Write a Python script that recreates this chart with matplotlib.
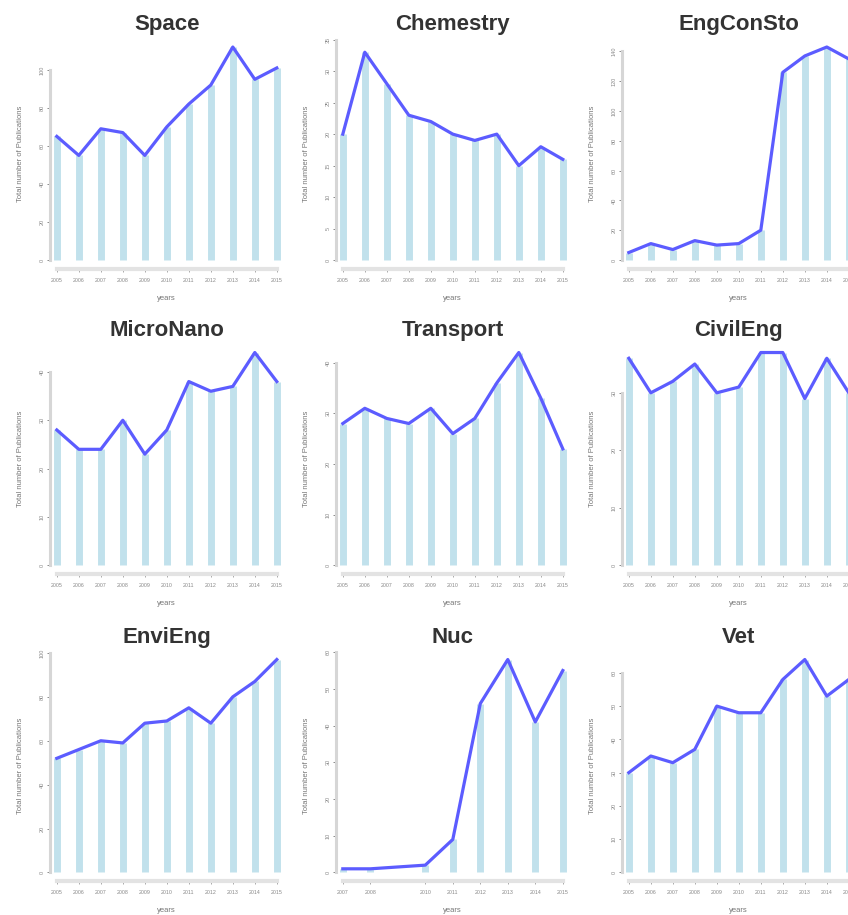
import matplotlib
matplotlib.use("Agg")
import matplotlib.pyplot as plt

plt.rcParams["font.family"] = ["Liberation Sans", "DejaVu Sans"]

years = [2005, 2006, 2007, 2008, 2009, 2010, 2011, 2012, 2013, 2014, 2015]
years_nuc = [2007, 2008, 2010, 2011, 2012, 2013, 2014, 2015]

space = [65, 55, 69, 67, 55, 70, 82, 92, 112, 95, 101]
chemestry = [20, 33, 28, 23, 22, 20, 19, 20, 15, 18, 16]
engconsto = [5, 11, 7, 13, 10, 11, 20, 126, 137, 143, 135]
micronano = [28, 24, 24, 30, 23, 28, 38, 36, 37, 44, 38]
transport = [28, 31, 29, 28, 31, 26, 29, 36, 42, 33, 23]
civileng = [36, 30, 32, 35, 30, 31, 37, 37, 29, 36, 30]
envieng = [52, 56, 60, 59, 68, 69, 75, 68, 80, 87, 97]
nuc = [1, 1, 2, 9, 46, 58, 41, 55]
vet = [30, 35, 33, 37, 50, 48, 48, 58, 64, 53, 58]

titles = ["Space", "Chemestry", "EngConSto",
          "MicroNano", "Transport", "CivilEng",
          "EnviEng", "Nuc", "Vet"]
x_values = [years, years, years, years, years, years, years, years_nuc, years]
y_values = [space, chemestry, engconsto, micronano, transport, civileng,
            envieng, nuc, vet]
y_steps = [20, 5, 20, 10, 10, 10, 20, 10, 10]
y_tops = [100, 35, 140, 40, 40, 30, 100, 60, 60]

W, H = 848, 915
fig = plt.figure(figsize=(W / 100, H / 100), dpi=100)

# panel grid in pixels (right column runs off the edge like the original)
col_left = [48, 334, 620]
row_top = [38.5, 344, 651]
ax_w, ax_h = 237.6, 230

for i, (title, xs, ys) in enumerate(zip(titles, x_values, y_values)):
    r, c = divmod(i, 3)
    ax = fig.add_axes([col_left[c] / W, 1 - (row_top[r] + ax_h) / H,
                       ax_w / W, ax_h / H])

    ax.vlines(xs, 0, ys, colors="#add8e6", linewidth=5, alpha=0.75)
    ax.plot(xs, ys, color="#5c5cff", linewidth=2.3)

    span = xs[-1] - xs[0]
    ax.set_xlim(xs[0] - 0.04 * span, xs[-1] + 0.04 * span)
    m = max(ys)
    top = max(1.04 * m, y_tops[i] * 1.005)
    ax.set_ylim(-0.04 * m, top)

    ax.set_xticks(xs)
    ax.set_xticklabels([str(x) for x in xs])
    ax.set_yticks(list(range(0, y_tops[i] + 1, y_steps[i])))

    for s in ["top", "right"]:
        ax.spines[s].set_visible(False)
    ax.spines["left"].set_bounds(0, y_tops[i])
    ax.spines["left"].set_color("#d6d6d6")
    ax.spines["left"].set_linewidth(2.2)
    ax.spines["left"].set_position(("outward", -1.5))
    ax.spines["bottom"].set_bounds(xs[0], xs[-1])
    ax.spines["bottom"].set_color("#e3e3e3")
    ax.spines["bottom"].set_linewidth(3)

    ax.tick_params(axis="y", length=2, width=0.6, color="#777777",
                   labelsize=4, labelcolor="#888888", pad=2,
                   labelrotation=90)
    for lab in ax.get_yticklabels():
        lab.set_va("center")
    ax.tick_params(axis="x", length=2, width=0.6, color="#999999",
                   labelsize=3.8, labelcolor="#888888", pad=4.5)

    ax.set_title(title, fontsize=16, fontweight="bold", color="#333333", pad=6)
    ax.set_ylabel("Total number of Publications", fontsize=5.5, color="#777777")
    ax.yaxis.set_label_coords(-0.10, 0.5)
    ax.set_xlabel("years", fontsize=5.5, color="#777777")
    ax.xaxis.set_label_coords(0.5, -0.115)

fig.savefig("out.png", dpi=100)
